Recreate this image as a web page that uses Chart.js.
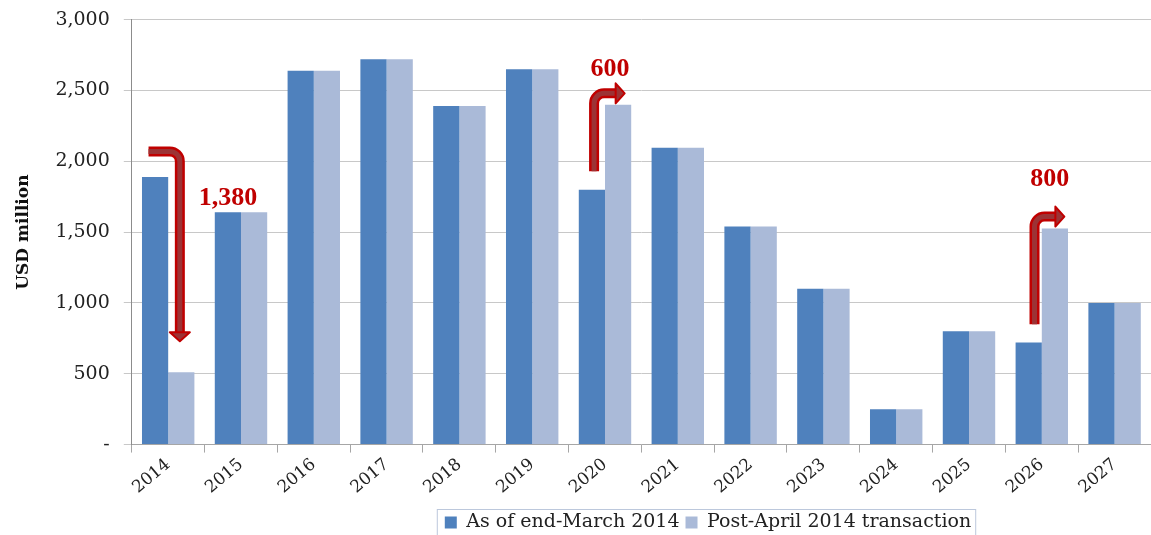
<!DOCTYPE html>
<html>
<head>
<meta charset="utf-8">
<script src="https://cdn.jsdelivr.net/npm/chart.js@4.4.1/dist/chart.umd.min.js"></script>
<style>
  body { margin: 0; background: #fff; }
  #wrap { width: 1151px; height: 535px; }
</style>
</head>
<body>
<div id="wrap"><canvas id="myChart"></canvas></div>
<script>
const years = ["2014", "2015", "2016", "2017", "2018", "2019", "2020", "2021", "2022", "2023", "2024", "2025", "2026", "2027"];
const asOfMarch = [1890, 1640, 2640, 2720, 2390, 2650, 1800, 2095, 1540, 1100, 250, 800, 720, 1000];
const postApril = [510, 1640, 2640, 2720, 2390, 2650, 2400, 2095, 1540, 1100, 250, 800, 1525, 1000];
const seriesNames = ["As of end-March 2014", "Post-April 2014 transaction"];

// change annotations: category index, path in [category offset, value], label position
const notes = [
  { cat: 0, path: [[-0.27, 2070], [0.16, 2070], [0.16, 730]], text: "1,380", at: [0.82, 1736] },
  { cat: 6, path: [[-0.15, 1930], [-0.15, 2480], [0.27, 2480]], text: "600", at: [0.07, 2650] },
  { cat: 12, path: [[-0.1, 850], [-0.1, 1610], [0.31, 1610]], text: "800", at: [0.11, 1870] },
];

const serif = "'DejaVu Serif', 'Liberation Serif', serif";

const arrowPlugin = {
  id: "arrows",
  afterDatasetsDraw(chart) {
    const { ctx, scales: { x, y } } = chart;
    const bw = x.getPixelForValue(1) - x.getPixelForValue(0);
    notes.forEach(n => {
      const pts = n.path.map(p => [x.getPixelForValue(n.cat) + p[0] * bw, y.getPixelForValue(p[1])]);
      const tip = pts[pts.length - 1];
      const prev = pts[pts.length - 2];
      const len = Math.hypot(tip[0] - prev[0], tip[1] - prev[1]);
      const dx = (tip[0] - prev[0]) / len, dy = (tip[1] - prev[1]) / len;
      const head = 9, half = 10;
      const base = [tip[0] - dx * head, tip[1] - dy * head];
      const line = () => {
        ctx.beginPath();
        ctx.moveTo(pts[0][0], pts[0][1]);
        ctx.arcTo(pts[1][0], pts[1][1], base[0], base[1], 10);
        ctx.lineTo(base[0], base[1]);
      };
      ctx.save();
      ctx.lineJoin = "round";
      line();
      ctx.strokeStyle = "#c00000";
      ctx.lineWidth = 10;
      ctx.stroke();
      line();
      ctx.strokeStyle = "#9c3335";
      ctx.lineWidth = 5;
      ctx.stroke();
      ctx.beginPath();
      ctx.moveTo(tip[0], tip[1]);
      ctx.lineTo(base[0] - dy * half, base[1] + dx * half);
      ctx.lineTo(base[0] + dy * half, base[1] - dx * half);
      ctx.closePath();
      ctx.fillStyle = "#9c3335";
      ctx.fill();
      ctx.strokeStyle = "#c00000";
      ctx.lineWidth = 2;
      ctx.stroke();

      ctx.fillStyle = "#c00000";
      ctx.font = "bold 26px 'Liberation Serif', serif";
      ctx.textAlign = "center";
      ctx.textBaseline = "middle";
      ctx.fillText(n.text, x.getPixelForValue(n.cat) + n.at[0] * bw, y.getPixelForValue(n.at[1]));
      ctx.restore();
    });
  },
};

const legendPlugin = {
  id: "legendBox",
  afterLayout(chart) {
    chart.legend.left += 130;
    chart.legend.right += 130;
    chart.legend.top += 7;
    chart.legend.bottom += 7;
  },
  afterDraw(chart) {
    const boxes = chart.legend.legendHitBoxes;
    if (!boxes || !boxes.length) return;
    const first = boxes[0], last = boxes[boxes.length - 1];
    const ctx = chart.ctx;
    ctx.save();
    ctx.strokeStyle = "#bcc8dc";
    ctx.lineWidth = 1;
    ctx.strokeRect(first.left - 7.5, first.top - 3.5, last.left + last.width - first.left + 12, first.height + 10);
    ctx.restore();
  },
};

new Chart("myChart", {
  type: "bar",
  data: {
    labels: years,
    datasets: [
      { label: seriesNames[0], data: asOfMarch, backgroundColor: "#4f81bd" },
      { label: seriesNames[1], data: postApril, backgroundColor: "#aabad8" },
    ],
  },
  options: {
    responsive: true,
    maintainAspectRatio: false,
    animation: false,
    layout: { padding: { top: 0, right: 0, left: 5, bottom: 0 } },
    datasets: { bar: { categoryPercentage: 0.72, barPercentage: 1 } },
    scales: {
      x: {
        grid: { display: true, drawOnChartArea: false, tickLength: 8, color: "#a6a6a6" },
        border: { color: "#a6a6a6" },
        ticks: { color: "#222", font: { family: serif, size: 17 }, minRotation: 40, maxRotation: 40, padding: 2 },
      },
      y: {
        min: 0,
        max: 3000,
        grid: { color: "#c8c8c8", tickLength: 8 },
        border: { color: "#8c8c8c" },
        ticks: {
          stepSize: 500,
          color: "#222",
          padding: 14,
          font: { family: serif, size: 19, lineHeight: 0.6 },
          callback: v => (v === 0 ? "-" : v.toLocaleString("en-US")),
        },
        title: { display: true, text: "USD million", color: "#111", padding: 8, font: { family: serif, size: 17, weight: "bold" } },
      },
    },
    plugins: {
      legend: {
        position: "bottom",
        labels: { color: "#222", boxWidth: 12, boxHeight: 12, padding: 6, font: { family: serif, size: 19 } },
      },
      tooltip: { enabled: false },
    },
  },
  plugins: [arrowPlugin, legendPlugin],
});
</script>
</body>
</html>
